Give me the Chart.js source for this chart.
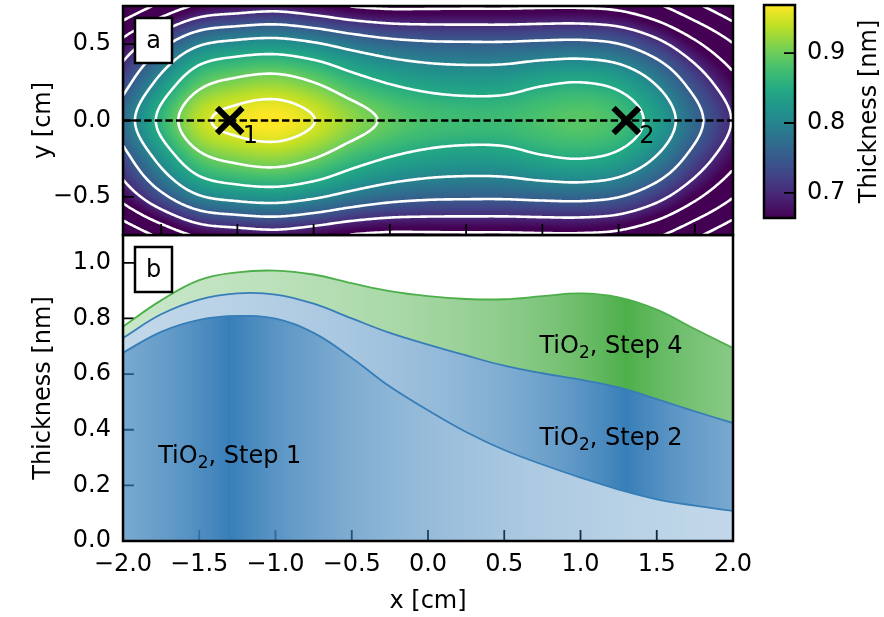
<!DOCTYPE html>
<html>
<head>
<meta charset="utf-8">
<script src="https://cdn.jsdelivr.net/npm/chart.js@4.4.1/dist/chart.umd.min.js"></script>
<style>
body { margin: 0; background: #fff; }
#wrap { position: relative; width: 884px; height: 617px; }
#wrap canvas { position: absolute; left: 0; top: 0; }
</style>
</head>
<body>
<div id="wrap">
<canvas id="profile" width="884" height="617"></canvas>
<canvas id="map" width="884" height="617"></canvas>
<canvas id="colorbar" width="884" height="617"></canvas>
</div>
<script>
// x positions shared by the profiles and the thickness map [cm]
const xNodes = [-2, -1.75, -1.5, -1.25, -1, -0.75, -0.5, -0.25, 0, 0.25, 0.5, 0.75, 1, 1.25, 1.5, 1.75, 2];

// cumulative thickness along y = 0 [nm]
const afterStep1 = [0.677, 0.752, 0.795, 0.809, 0.799, 0.748, 0.658, 0.555, 0.470, 0.392, 0.327, 0.275, 0.228, 0.185, 0.150, 0.127, 0.108];
const afterStep2 = [0.730, 0.815, 0.868, 0.890, 0.886, 0.853, 0.800, 0.748, 0.706, 0.667, 0.630, 0.603, 0.580, 0.552, 0.510, 0.466, 0.424];
const afterStep4 = [0.771, 0.865, 0.938, 0.966, 0.972, 0.958, 0.927, 0.898, 0.880, 0.870, 0.869, 0.880, 0.890, 0.876, 0.832, 0.762, 0.694];

// thickness map, one row per y node [nm]
const mapYNodes = [0.75, 0.5, 0.25, 0, -0.25, -0.5, -0.75];
const mapThickness = [
  [0.556, 0.612, 0.658, 0.672, 0.680, 0.666, 0.648, 0.640, 0.641, 0.642, 0.642, 0.644, 0.644, 0.636, 0.607, 0.560, 0.512],
  [0.666, 0.737, 0.795, 0.814, 0.820, 0.806, 0.783, 0.766, 0.758, 0.756, 0.756, 0.760, 0.762, 0.751, 0.715, 0.660, 0.602],
  [0.731, 0.815, 0.886, 0.910, 0.918, 0.900, 0.869, 0.847, 0.834, 0.829, 0.831, 0.844, 0.850, 0.837, 0.795, 0.730, 0.665],
  [0.771, 0.862, 0.938, 0.962, 0.970, 0.951, 0.918, 0.893, 0.878, 0.872, 0.872, 0.882, 0.889, 0.876, 0.832, 0.765, 0.697],
  [0.731, 0.815, 0.886, 0.910, 0.918, 0.900, 0.869, 0.847, 0.834, 0.829, 0.831, 0.844, 0.850, 0.837, 0.795, 0.730, 0.665],
  [0.666, 0.737, 0.795, 0.814, 0.820, 0.806, 0.783, 0.766, 0.758, 0.756, 0.756, 0.760, 0.762, 0.751, 0.715, 0.660, 0.602],
  [0.556, 0.612, 0.658, 0.672, 0.680, 0.666, 0.648, 0.640, 0.641, 0.642, 0.642, 0.644, 0.644, 0.636, 0.607, 0.560, 0.512]
];
const contourLevels = [0.5, 0.55, 0.6, 0.65, 0.7, 0.75, 0.8, 0.85, 0.9, 0.95];
const colorRange = [0.664, 0.969];

const probeX = [-1.3, 1.3];
const probeNames = ['1', '2'];
const refLineX = [-2, 2];

const profileXTicks = [-2, -1.5, -1, -0.5, 0, 0.5, 1, 1.5, 2];
const profileYTicks = [0, 0.2, 0.4, 0.6, 0.8, 1.0];
const mapXTicks = [-1.75, -1.25, -0.75, -0.25, 0.25, 0.75, 1.25, 1.75];
const mapYTicks = [-0.5, 0, 0.5];
const colorbarTicks = [0.7, 0.8, 0.9];

const stepLabels = [
  { step: 1, x: -1.3, y: 0.281 },
  { step: 4, x: 1.2, y: 0.676 },
  { step: 2, x: 1.2, y: 0.345 }
];

const BLUE = '#377eb8';
const GREEN = '#4daf4a';
const FONT = "'DejaVu Sans', sans-serif";
const viridis = ['#440154', '#482475', '#414487', '#355f8d', '#2a788e', '#21918c',
  '#22a884', '#44bf70', '#7ad151', '#bddf26', '#fde725'].map(hexRgb);

Chart.defaults.font.family = FONT;
Chart.defaults.font.size = 24;
Chart.defaults.color = '#000';
Chart.defaults.animation = false;
Chart.defaults.events = [];
Chart.defaults.plugins.legend.display = false;
Chart.defaults.plugins.tooltip.enabled = false;

function hexRgb(h) {
  return [1, 3, 5].map(k => parseInt(h.slice(k, k + 2), 16));
}

function viridisAt(t) {
  t = Math.min(1, Math.max(0, t)) * (viridis.length - 1);
  const k = Math.min(viridis.length - 2, Math.floor(t));
  const f = t - k;
  return viridis[k].map((c, n) => c + (viridis[k + 1][n] - c) * f);
}

const fmt = v => v.toFixed(1).replace('-', '\u2212');
const fixedTicks = values => s => { s.ticks = values.map(value => ({ value })); };

// fixed axis thickness, and no extra room reserved for the end labels
function fixSize(prop, size) {
  return s => {
    s[prop] = size;
    s.paddingTop = 0; s.paddingBottom = 0; s.paddingLeft = 0; s.paddingRight = 0;
  };
}

function axisStyle(extra) {
  return Object.assign({
    type: 'linear',
    grid: { display: false, drawTicks: false },
    border: { display: false },
    ticks: { padding: 12, maxRotation: 0, autoSkip: false, callback: fmt }
  }, extra);
}

// Catmull-Rom through the map nodes, extended linearly past the edges
function node(i, j) {
  const nx = xNodes.length, ny = mapYNodes.length;
  if (i < 0) return 2 * node(0, j) - node(1, j);
  if (i >= nx) return 2 * node(nx - 1, j) - node(nx - 2, j);
  if (j < 0) return 2 * node(i, 0) - node(i, 1);
  if (j >= ny) return 2 * node(i, ny - 1) - node(i, ny - 2);
  return mapThickness[j][i];
}

function cr(p0, p1, p2, p3, t) {
  return p1 + 0.5 * t * (p2 - p0 + t * (2 * p0 - 5 * p1 + 4 * p2 - p3 + t * (3 * (p1 - p2) + p3 - p0)));
}

function sampleMap(xv, yv) {
  const fx = (xv - xNodes[0]) / (xNodes[1] - xNodes[0]);
  const fy = (yv - mapYNodes[0]) / (mapYNodes[1] - mapYNodes[0]);
  const i = Math.min(xNodes.length - 2, Math.max(0, Math.floor(fx)));
  const j = Math.min(mapYNodes.length - 2, Math.max(0, Math.floor(fy)));
  const tx = fx - i, ty = fy - j;
  const r = [];
  for (let d = -1; d <= 2; d++) {
    r.push(cr(node(i - 1, j + d), node(i, j + d), node(i + 1, j + d), node(i + 2, j + d), tx));
  }
  return cr(r[0], r[1], r[2], r[3], ty);
}

function drawContours(ctx, f, w, h, ox, oy, s) {
  const nx = Math.floor((w - 1) / s), ny = Math.floor((h - 1) / s);
  const at = (i, j) => f[j * s * w + i * s];
  ctx.save();
  ctx.strokeStyle = '#fff';
  ctx.lineWidth = 2.6;
  ctx.lineCap = 'round';
  ctx.lineJoin = 'round';
  ctx.beginPath();
  for (const lv of contourLevels) {
    for (let j = 0; j < ny; j++) {
      for (let i = 0; i < nx; i++) {
        const a = at(i, j), b = at(i + 1, j), c = at(i + 1, j + 1), d = at(i, j + 1);
        const idx = (a > lv ? 8 : 0) | (b > lv ? 4 : 0) | (c > lv ? 2 : 0) | (d > lv ? 1 : 0);
        if (idx === 0 || idx === 15) continue;
        const px = ox + i * s, py = oy + j * s;
        const T = [px + s * (lv - a) / (b - a), py];
        const R = [px + s, py + s * (lv - b) / (c - b)];
        const B = [px + s * (lv - d) / (c - d), py + s];
        const L = [px, py + s * (lv - a) / (d - a)];
        const mid = (a + b + c + d) / 4 > lv;
        let segs;
        switch (idx) {
          case 1: case 14: segs = [[L, B]]; break;
          case 2: case 13: segs = [[B, R]]; break;
          case 3: case 12: segs = [[L, R]]; break;
          case 4: case 11: segs = [[T, R]]; break;
          case 6: case 9: segs = [[T, B]]; break;
          case 7: case 8: segs = [[L, T]]; break;
          case 5: segs = mid ? [[L, T], [B, R]] : [[L, B], [T, R]]; break;
          case 10: segs = mid ? [[T, R], [L, B]] : [[L, T], [B, R]]; break;
        }
        for (const [p, q] of segs) {
          ctx.moveTo(p[0], p[1]);
          ctx.lineTo(q[0], q[1]);
        }
      }
    }
  }
  ctx.stroke();
  ctx.restore();
}

function drawInTicks(ctx, scale, values, edge, dir, horizontal) {
  ctx.save();
  ctx.strokeStyle = '#000';
  ctx.lineWidth = 1.8;
  ctx.beginPath();
  for (const v of values) {
    const p = scale.getPixelForValue(v);
    if (horizontal) { ctx.moveTo(p, edge); ctx.lineTo(p, edge + dir * 11); }
    else { ctx.moveTo(edge, p); ctx.lineTo(edge + dir * 11, p); }
  }
  ctx.stroke();
  ctx.restore();
}

function drawFrame(ctx, a) {
  ctx.save();
  ctx.strokeStyle = '#000';
  ctx.lineWidth = 2.5;
  ctx.strokeRect(a.left, a.top, a.right - a.left, a.bottom - a.top);
  ctx.restore();
}

function panelTag(ctx, a, text) {
  ctx.save();
  ctx.fillStyle = '#fff';
  ctx.strokeStyle = '#000';
  ctx.lineWidth = 2.5;
  ctx.fillRect(a.left + 12, a.top + 12, 37, 45);
  ctx.strokeRect(a.left + 12, a.top + 12, 37, 45);
  ctx.fillStyle = '#000';
  ctx.font = '24px ' + FONT;
  ctx.textAlign = 'center';
  ctx.textBaseline = 'alphabetic';
  ctx.fillText(text, a.left + 30.5, a.top + 42);
  ctx.restore();
}

function bandShade(d) {
  return 1 / (1 + 0.7 * d);
}

function bandFill(hex, centerX) {
  const rgb = hexRgb(hex).join(',');
  return c => {
    const chart = c.chart, a = chart.chartArea, sx = chart.scales.x;
    if (!a || !sx) return hex;
    const g = chart.ctx.createLinearGradient(a.left, 0, a.right, 0);
    const xs = [];
    for (let k = 0; k <= 80; k++) xs.push(sx.min + (sx.max - sx.min) * k / 80);
    xs.push(centerX);
    xs.sort((p, q) => p - q);
    for (const xv of xs) {
      const t = (sx.getPixelForValue(xv) - a.left) / (a.right - a.left);
      g.addColorStop(Math.min(1, Math.max(0, t)), `rgba(${rgb},${bandShade(Math.abs(xv - centerX)).toFixed(3)})`);
    }
    return g;
  };
}

const pts = ys => xNodes.map((x, k) => ({ x, y: ys[k] }));

// panel b: thickness profiles along y = 0
new Chart(document.getElementById('profile'), {
  type: 'line',
  data: {
    datasets: [
      { data: pts(afterStep1), borderColor: BLUE, backgroundColor: bandFill(BLUE, probeX[0]), fill: 'origin' },
      { data: pts(afterStep2), borderColor: BLUE, backgroundColor: bandFill(BLUE, probeX[1]), fill: '-1' },
      { data: pts(afterStep4), borderColor: GREEN, backgroundColor: bandFill(GREEN, probeX[1]), fill: '-1' }
    ]
  },
  options: {
    responsive: false,
    devicePixelRatio: 1,
    layout: { autoPadding: false, padding: { left: 0, top: 235, right: 151, bottom: 0 } },
    elements: {
      line: { borderWidth: 1.8, tension: 0.4 },
      point: { radius: 0 }
    },
    scales: {
      x: axisStyle({
        min: -2, max: 2,
        afterBuildTicks: fixedTicks(profileXTicks),
        afterFit: fixSize('height', 76),
        ticks: { padding: 9, maxRotation: 0, autoSkip: false, callback: fmt },
        title: { display: true, text: 'x [cm]', padding: { top: 0, bottom: 1 } }
      }),
      y: axisStyle({
        min: 0, max: 1.1,
        afterBuildTicks: fixedTicks(profileYTicks),
        afterFit: fixSize('width', 123),
        title: { display: true, text: 'Thickness [nm]', padding: { top: 29, bottom: 0 } }
      })
    }
  },
  plugins: [{
    id: 'profileDecor',
    beforeDatasetsDraw(chart) {
      const { ctx, chartArea: a, scales: { x, y } } = chart;
      drawInTicks(ctx, x, profileXTicks, a.bottom, -1, true);
      drawInTicks(ctx, y, profileYTicks, a.left, 1, false);
    },
    afterDraw(chart) {
      const { ctx, chartArea: a, scales: { x, y } } = chart;
      ctx.save();
      ctx.fillStyle = '#000';
      ctx.textBaseline = 'alphabetic';
      for (const lab of stepLabels) {
        ctx.font = '24px ' + FONT;
        const w1 = ctx.measureText('TiO').width;
        const tail = ', Step ' + lab.step;
        const w3 = ctx.measureText(tail).width;
        ctx.font = '17px ' + FONT;
        const w2 = ctx.measureText('2').width;
        const x0 = x.getPixelForValue(lab.x) - (w1 + w2 + w3) / 2;
        const y0 = y.getPixelForValue(lab.y);
        ctx.fillText('2', x0 + w1, y0 + 5);
        ctx.font = '24px ' + FONT;
        ctx.fillText('TiO', x0, y0);
        ctx.fillText(tail, x0 + w1 + w2, y0);
      }
      ctx.restore();
      drawFrame(ctx, a);
      panelTag(ctx, a, 'b');
    }
  }]
});

// panel a: thickness map with contours
new Chart(document.getElementById('map'), {
  type: 'scatter',
  data: {
    datasets: [
      {
        data: probeX.map(x => ({ x, y: 0 })),
        pointStyle: 'crossRot', pointRadius: 18, pointBorderWidth: 6,
        pointBorderColor: '#000', borderColor: '#000'
      },
      {
        data: refLineX.map(x => ({ x, y: 0 })),
        showLine: true, pointRadius: 0, borderColor: '#000', borderWidth: 2.4, borderDash: [7.4, 3.2]
      }
    ]
  },
  options: {
    responsive: false,
    devicePixelRatio: 1,
    layout: { autoPadding: false, padding: { left: 0, top: 6, right: 151, bottom: 382 } },
    scales: {
      x: axisStyle({ min: -2, max: 2, display: false }),
      y: axisStyle({
        min: -0.75, max: 0.75,
        afterBuildTicks: fixedTicks(mapYTicks),
        afterFit: fixSize('width', 123),
        title: { display: true, text: 'y [cm]', padding: { top: 29, bottom: 0 } }
      })
    }
  },
  plugins: [{
    id: 'thicknessMap',
    beforeDatasetsDraw(chart) {
      const { ctx, chartArea: a, scales: { x, y } } = chart;
      const w = Math.round(a.right - a.left), h = Math.round(a.bottom - a.top);
      const field = new Float32Array(w * h);
      const img = new ImageData(w, h);
      const span = colorRange[1] - colorRange[0];
      for (let j = 0; j < h; j++) {
        const yv = y.getValueForPixel(a.top + j + 0.5);
        for (let i = 0; i < w; i++) {
          const v = sampleMap(x.getValueForPixel(a.left + i + 0.5), yv);
          field[j * w + i] = v;
          const c = viridisAt((v - colorRange[0]) / span);
          const o = (j * w + i) * 4;
          img.data[o] = c[0]; img.data[o + 1] = c[1]; img.data[o + 2] = c[2]; img.data[o + 3] = 255;
        }
      }
      const off = document.createElement('canvas');
      off.width = w; off.height = h;
      off.getContext('2d').putImageData(img, 0, 0);
      ctx.drawImage(off, a.left, a.top);
      ctx.save();
      ctx.beginPath();
      ctx.rect(a.left, a.top, w, h);
      ctx.clip();
      drawContours(ctx, field, w, h, a.left + 0.5, a.top + 0.5, 2);
      ctx.restore();
    },
    afterDraw(chart) {
      const { ctx, chartArea: a, scales: { x, y } } = chart;
      drawInTicks(ctx, x, mapXTicks, a.bottom, -1, true);
      drawInTicks(ctx, y, mapYTicks, a.left, 1, false);
      ctx.save();
      ctx.fillStyle = '#000';
      ctx.font = '24px ' + FONT;
      ctx.textBaseline = 'alphabetic';
      probeX.forEach((xv, k) => {
        ctx.fillText(probeNames[k], x.getPixelForValue(xv) + 13, y.getPixelForValue(0) + 22);
      });
      ctx.restore();
      drawFrame(ctx, a);
      panelTag(ctx, a, 'a');
    }
  }]
});

// colour bar for the map
new Chart(document.getElementById('colorbar'), {
  type: 'scatter',
  data: { datasets: [] },
  options: {
    responsive: false,
    devicePixelRatio: 1,
    layout: { autoPadding: false, padding: { left: 764, top: 5, right: 0, bottom: 399 } },
    scales: {
      x: axisStyle({ min: 0, max: 1, display: false }),
      y: axisStyle({
        position: 'right',
        min: colorRange[0], max: colorRange[1],
        afterBuildTicks: fixedTicks(colorbarTicks),
        afterFit: fixSize('width', 89)
      })
    }
  },
  plugins: [{
    id: 'colorbarFill',
    beforeDatasetsDraw(chart) {
      const { ctx, chartArea: a, scales: { y } } = chart;
      const span = colorRange[1] - colorRange[0];
      for (let py = Math.floor(a.top); py < a.bottom; py++) {
        const c = viridisAt((y.getValueForPixel(py + 0.5) - colorRange[0]) / span);
        ctx.fillStyle = `rgb(${c.map(Math.round).join(',')})`;
        ctx.fillRect(a.left, py, a.right - a.left, 1);
      }
    },
    afterDraw(chart) {
      const { ctx, chartArea: a, scales: { y } } = chart;
      drawInTicks(ctx, y, colorbarTicks, a.right, -1, false);
      drawFrame(ctx, a);
      ctx.save();
      ctx.fillStyle = '#000';
      ctx.font = '24px ' + FONT;
      ctx.textAlign = 'center';
      ctx.textBaseline = 'middle';
      ctx.translate(870, (a.top + a.bottom) / 2);
      ctx.rotate(-Math.PI / 2);
      ctx.fillText('Thickness [nm]', 0, 0);
      ctx.restore();
    }
  }]
});
</script>
</body>
</html>
